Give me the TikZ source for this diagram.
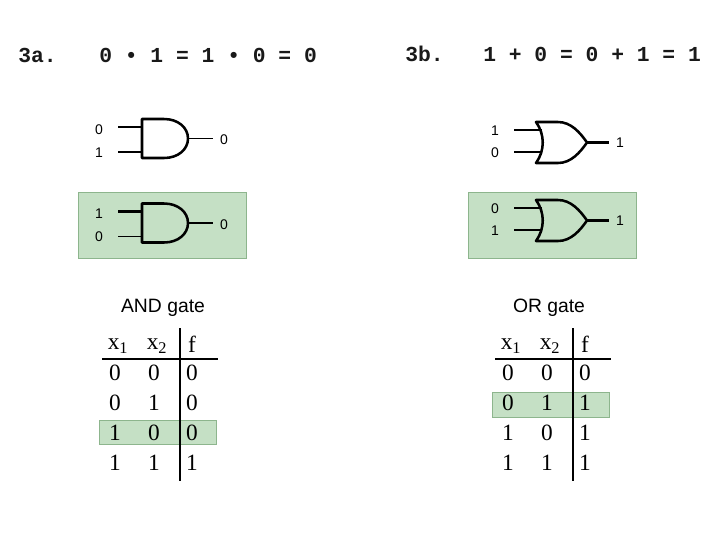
\documentclass[tikz,border=0pt]{standalone}
\usepackage{fontspec}
\setmainfont{Liberation Serif}
\setsansfont{Liberation Sans}
\setmonofont{Liberation Mono}
\usepackage{xcolor}
\usepackage{tikz}
\definecolor{hilitegreen}{RGB}{197,224,197}
\definecolor{hiliteedge}{RGB}{141,181,141}
\tikzset{
  wire/.style={line width=1.8pt},
  thinwire/.style={line width=1.25pt},
  gate/.style={draw, line width=1.9pt, line join=round},
  andgate/.pic={
    \draw[gate] (0,-19.5) -- (22,-19.5) .. controls (36,-19.5) and (46,-11) .. (46,0)
      .. controls (46,11) and (36,19.5) .. (22,19.5) -- (0,19.5) -- cycle;
    \coordinate (-in1) at (0,-11.5);
    \coordinate (-in2) at (0,13.5);
    \coordinate (-out) at (46,0);
  },
  orgate/.pic={
    \draw[gate] (0,-20.5) .. controls (9,-8) and (9,8) .. (0,20.5) -- (22,20.5)
      .. controls (35,20.5) and (44,10) .. (51,0)
      .. controls (44,-10) and (35,-20.5) .. (22,-20.5) -- cycle;
    \coordinate (-in1) at (6,-12.5);
    \coordinate (-in2) at (6,9.5);
    \coordinate (-out) at (51,0);
  },
  bit/.style={font=\sffamily\fontsize{10.5}{12}\selectfont, inner sep=0pt},
  heading/.style={font=\ttfamily\bfseries\fontsize{16}{18}\selectfont, text=black!90, inner sep=0pt},
  gatename/.style={font=\sffamily\fontsize{14.5}{16}\selectfont, inner sep=0pt},
  cell/.style={font=\fontsize{17.5}{19}\selectfont, inner sep=0pt},
  rule/.style={line width=1.5pt},
  hilite/.style={draw=hiliteedge, fill=hilitegreen, line width=0.6pt},
}
\begin{document}
\begin{tikzpicture}[x=0.75pt, y=-0.75pt]
  \useasboundingbox (0,0) rectangle (720,540);

  % green boxes
  \draw[hilite] (78,192) rectangle (246,258);
  \draw[hilite] (468,192) rectangle (636,258);
  \draw[hilite] (99,420) rectangle (216,444);
  \draw[hilite] (492,392) rectangle (609,417);

  % headings
  \node[heading, anchor=west] (heada) at (18,55) {3a.};
  \node[heading, anchor=west] (eqa) at (99,55) {0 • 1 = 1 • 0 = 0};
  \node[heading, anchor=west] (headb) at (405,54) {3b.};
  \node[heading, anchor=west] (eqb) at (483,54) {1 + 0 = 0 + 1 = 1};

  % AND gates
  \pic (anda) at (142,138.5) {andgate};
  \pic (andb) at (142,223) {andgate};
  \node[bit] (anda1) at (99,130) {0};
  \node[bit] (anda2) at (99,152.5) {1};
  \node[bit] (andaout) at (224,139.5) {0};
  \node[bit] (andb1) at (99,213.5) {1};
  \node[bit] (andb2) at (99,236.5) {0};
  \node[bit] (andbout) at (224,224.5) {0};
  \draw[wire] (anda-in1) -- ++(-24,0);
  \draw[wire] (anda-in2) -- ++(-24,0);
  \draw[thinwire] (anda-out) -- ++(25,0);
  \draw[wire] (andb-in1) -- ++(-24,0);
  \draw[thinwire] (andb-in2) -- ++(-24,0);
  \draw[thinwire] (andb-out) -- ++(25,0);

  % OR gates
  \pic (ora) at (536,142.5) {orgate};
  \pic (orb) at (536,220.5) {orgate};
  \node[bit] (ora1) at (495,130.5) {1};
  \node[bit] (ora2) at (495,152.5) {0};
  \node[bit] (oraout) at (620,142.5) {1};
  \node[bit] (orb1) at (495,208.5) {0};
  \node[bit] (orb2) at (495,230.5) {1};
  \node[bit] (orbout) at (620,220.5) {1};
  \draw[wire] (ora-in1) -- ++(-28,0);
  \draw[wire] (ora-in2) -- ++(-28,0);
  \draw[wire] (ora-out) -- ++(22,0);
  \draw[wire] (orb-in1) -- ++(-28,0);
  \draw[wire] (orb-in2) -- ++(-28,0);
  \draw[wire] (orb-out) -- ++(22,0);

  % truth tables
  \node[gatename] (andname) at (163,308) {AND gate};
  \node[gatename] (orname) at (549,308) {OR gate};

  \node[cell] (andx) at (118,346) {x\textsubscript{1}};
  \node[cell] (andy) at (157,346) {x\textsubscript{2}};
  \node[cell] (andf) at (192,344) {f};
  \foreach \ya/\a/\b/\f in {373/0/0/0, 403/0/1/0, 433/1/0/0, 463/1/1/1}
  {
    \node[cell] (anda\ya) at (115,\ya) {\a};
    \node[cell] (andb\ya) at (154,\ya) {\b};
    \node[cell] (andf\ya) at (192,\ya) {\f};
  }
  \draw[rule] (102,359) -- (218,359);
  \draw[rule] (180,328) -- (180,481);

  \node[cell] (orx) at (511,346) {x\textsubscript{1}};
  \node[cell] (ory) at (550,346) {x\textsubscript{2}};
  \node[cell] (orf) at (585,344) {f};
  \foreach \ya/\a/\b/\f in {373/0/0/0, 403/0/1/1, 433/1/0/1, 463/1/1/1}
  {
    \node[cell] (ora\ya) at (508,\ya) {\a};
    \node[cell] (orb\ya) at (547,\ya) {\b};
    \node[cell] (orf\ya) at (585,\ya) {\f};
  }
  \draw[rule] (495,359) -- (611,359);
  \draw[rule] (573,328) -- (573,481);
\end{tikzpicture}
\end{document}
